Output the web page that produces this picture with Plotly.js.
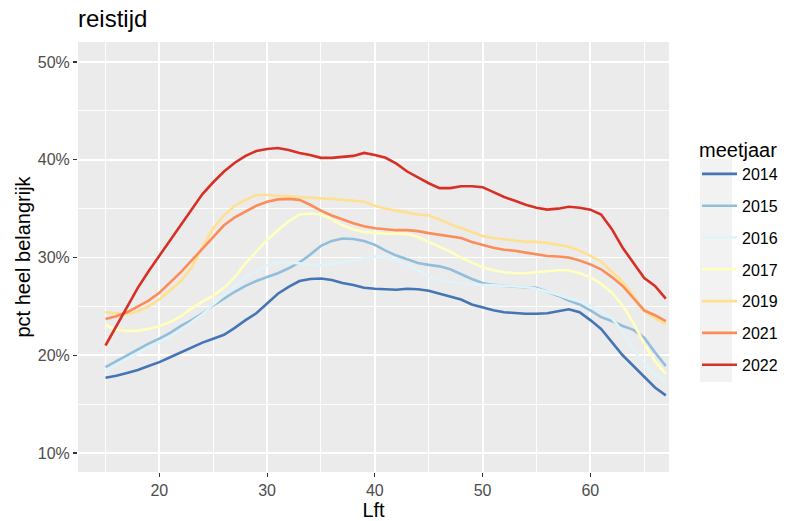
<!DOCTYPE html>
<html>
<head>
<meta charset="utf-8">
<script src="https://cdn.plot.ly/plotly-3.0.1.min.js"></script>
<style>html,body{margin:0;padding:0;background:#fff;}#chart{width:786px;height:521px;}</style>
</head>
<body>
<div id="chart"></div>
<script>
const ages = [15,16,17,18,19,20,21,22,23,24,25,26,27,28,29,30,31,32,33,34,35,36,37,38,39,40,41,42,43,44,45,46,47,48,49,50,51,52,53,54,55,56,57,58,59,60,61,62,63,64,65,66,67];

const y2014 = [17.7,17.9,18.2,18.5,18.9,19.3,19.8,20.3,20.8,21.3,21.7,22.1,22.8,23.6,24.3,25.3,26.3,27.0,27.6,27.8,27.85,27.7,27.4,27.2,26.9,26.8,26.75,26.7,26.8,26.75,26.6,26.3,26.0,25.7,25.2,24.9,24.6,24.4,24.3,24.25,24.25,24.3,24.5,24.7,24.4,23.6,22.7,21.3,20.0,18.9,17.8,16.7,15.9];
const y2015 = [18.8,19.4,20.0,20.6,21.2,21.7,22.3,23.0,23.6,24.3,25.1,25.8,26.5,27.1,27.6,28.0,28.4,28.9,29.5,30.3,31.2,31.7,31.95,31.9,31.7,31.3,30.7,30.2,29.8,29.45,29.25,29.1,28.8,28.3,27.8,27.4,27.2,27.1,27.05,27.0,26.9,26.5,26.1,25.6,25.2,24.6,23.9,23.5,23.0,22.6,21.8,20.3,18.9];
const y2016 = [18.4,19.0,19.6,20.2,20.8,21.3,21.9,22.6,23.4,24.2,25.2,26.2,27.1,28.0,28.6,29.2,29.5,29.5,29.4,29.3,29.2,29.3,29.5,29.7,29.9,30.1,30.1,29.7,29.3,28.7,28.1,27.7,27.5,27.35,27.25,27.2,27.15,27.1,27.1,27.0,26.8,26.5,26.2,25.8,25.5,25.1,24.6,23.8,22.4,20.6,19.1,18.1,17.2];
const y2017 = [23.1,22.6,22.5,22.5,22.7,23.0,23.4,24.0,24.8,25.5,26.1,26.9,28.0,29.4,30.6,31.8,32.8,33.7,34.4,34.5,34.4,33.9,33.3,32.9,32.6,32.5,32.45,32.45,32.4,32.1,31.6,31.1,30.6,30.0,29.5,29.0,28.7,28.5,28.4,28.4,28.5,28.6,28.7,28.7,28.4,28.0,27.3,26.4,25.1,23.3,21.2,19.4,18.1];
const y2019 = [24.4,24.3,24.2,24.5,25.0,25.7,26.6,27.6,29.0,31.1,33.0,34.3,35.3,35.9,36.4,36.4,36.3,36.3,36.2,36.1,36.05,36.0,35.9,35.85,35.7,35.3,35.0,34.8,34.6,34.4,34.3,33.9,33.4,33.0,32.6,32.2,32.0,31.85,31.7,31.6,31.6,31.5,31.3,31.1,30.7,30.2,29.6,28.6,27.5,26.1,24.5,23.8,23.2];
const y2021 = [23.7,24.0,24.4,25.0,25.6,26.4,27.4,28.5,29.7,30.9,32.2,33.3,34.1,34.7,35.3,35.7,35.95,36.0,35.9,35.4,34.8,34.3,33.9,33.5,33.2,33.0,32.9,32.8,32.8,32.7,32.5,32.35,32.2,32.0,31.6,31.3,31.0,30.8,30.7,30.5,30.3,30.15,30.1,30.0,29.7,29.3,28.8,28.0,27.1,25.8,24.6,24.1,23.5];
const y2022 = [21.0,23.0,25.0,26.9,28.6,30.2,31.7,33.3,35.0,36.5,37.7,38.8,39.7,40.4,40.9,41.1,41.2,41.0,40.7,40.5,40.2,40.2,40.3,40.4,40.7,40.5,40.2,39.6,38.8,38.2,37.6,37.1,37.1,37.3,37.3,37.2,36.7,36.2,35.8,35.4,35.1,34.9,35.0,35.2,35.1,34.9,34.4,32.9,31.0,29.5,27.9,27.1,25.8];

const years = ['2014','2015','2016','2017','2019','2021','2022'];
const seriesValues = [y2014,y2015,y2016,y2017,y2019,y2021,y2022];
const colors = ['#4575b4','#91bfdb','#e0f3f8','#ffffbf','#fee090','#fc8d59','#d73027'];

const yTicks = [10,20,30,40,50];
const yTickLabels = ['10%','20%','30%','40%','50%'];
const xTicks = [20,30,40,50,60];

const traces = years.map((yr,i)=>({
  x: ages, y: seriesValues[i], name: yr, type:'scatter', mode:'lines',
  legendgroup: yr,
  line:{color:colors[i], width:2.6}
}));

const pl = 78, pr = 669, pt = 42, pb = 472;
const W = 786, H = 521;
const pw = pr-pl, ph = pb-pt;
function px(x){return (x-pl)/pw;}
function py(y){return (pb-y)/ph;}

const layout = {
  width: W, height: H,
  margin:{l:pl, r:W-pr, t:pt, b:H-pb, pad:0, autoexpand:false},
  paper_bgcolor:'#ffffff',
  plot_bgcolor:'#ebebeb',
  font:{family:'Liberation Sans, Arial, sans-serif', color:'#000'},
  title:{text:'reistijd', font:{size:24, color:'#000'}, xref:'container', x:78/W, xanchor:'left', yref:'container', y:1-19/H, yanchor:'middle'},
  xaxis:{
    range:[12.45,67.3], tickvals:xTicks, ticktext:xTicks.map(String),
    showgrid:true, gridcolor:'#ffffff', gridwidth:1.8, zeroline:false, showline:false,
    ticks:'outside', ticklen:4, tickwidth:1.2, tickcolor:'#333333',
    tickfont:{size:16, color:'#4d4d4d'},
    minor:{tickvals:[15,25,35,45,55,65], showgrid:true, gridcolor:'#ffffff', gridwidth:0.9, ticks:''},
    title:{text:'Lft', font:{size:20, color:'#000'}, standoff:2}
  },
  yaxis:{
    range:[8.06,52.05], tickvals:yTicks, ticktext:yTickLabels,
    showgrid:true, gridcolor:'#ffffff', gridwidth:1.8, zeroline:false, showline:false,
    ticks:'outside', ticklen:4, tickwidth:1.2, tickcolor:'#333333',
    tickfont:{size:16, color:'#4d4d4d'},
    minor:{tickvals:[15,25,35,45], showgrid:true, gridcolor:'#ffffff', gridwidth:0.9, ticks:''},
    title:{text:'pct heel belangrijk', font:{size:20, color:'#000'}, standoff:1}
  },
  showlegend:true,
  legend:{
    xref:'container', yref:'container',
    x:697/W, xanchor:'left', y:1-131/H, yanchor:'top',
    bgcolor:'rgba(0,0,0,0)', borderwidth:0,
    title:{text:'meetjaar', font:{size:20, color:'#000'}},
    font:{size:16, color:'#000'},
    tracegroupgap:8, itemwidth:35
  },
  shapes:[{
    type:'rect', xref:'paper', yref:'paper',
    x0:px(700), x1:px(732), y0:py(382), y1:py(159),
    fillcolor:'#f2f2f2', line:{width:0}, layer:'below'
  }]
};

Plotly.newPlot('chart', traces, layout, {displayModeBar:false, staticPlot:true});
</script>
</body>
</html>
